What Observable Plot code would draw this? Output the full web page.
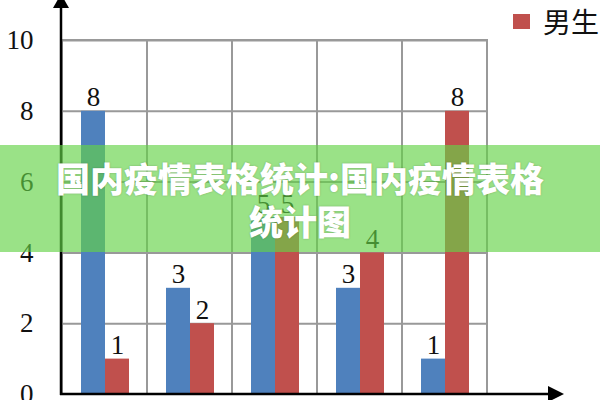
<!DOCTYPE html>
<html><head><meta charset="utf-8">
<script src="https://cdn.jsdelivr.net/npm/d3@7"></script>
<script src="https://cdn.jsdelivr.net/npm/@observablehq/plot@0.6"></script>
<style>
body{margin:0;background:#fff;}
#wrap{position:relative;width:600px;height:400px;overflow:hidden;}
#legend{position:absolute;left:513px;top:3px;display:flex;align-items:center;font-family:"Noto Sans CJK SC";font-size:28px;color:#111;white-space:nowrap;line-height:36px;}
#legend .sw{width:17px;height:15px;background:#c0504d;margin-right:13px;}
#banner{position:absolute;left:0;top:145px;width:600px;height:107px;background:rgba(100,210,70,0.65);display:flex;align-items:center;justify-content:center;}
#title{font-family:"Noto Sans CJK SC";font-weight:900;font-size:34px;color:#fff;text-align:center;line-height:43px;white-space:nowrap;text-shadow:0 0 2px rgba(0,0,0,.25);}
</style></head>
<body><div id="wrap"></div>
<script>
const categories = ["一", "二", "三", "四", "五"];
const girls = [8, 3, 5, 3, 1];
const boys = [1, 2, 5, 4, 8];
const yTicks = [0, 2, 4, 6, 8, 10];
const legendLabel = "男生";
const titleLines = ["国内疫情表格统计:国内疫情表格", "统计图"];

const rows = categories.map((c, i) => ({cat: c, girl: girls[i], boy: boys[i]}));
const serif = "'Liberation Serif', 'Times New Roman', serif";

const plot = Plot.plot({
  width: 600, height: 400,
  marginLeft: 61, marginRight: 113, marginTop: 40, marginBottom: 6,
  x: {domain: categories, padding: 0, axis: null},
  y: {domain: [0, 10], ticks: yTicks, tickSize: 0, tickPadding: 28, label: null},
  style: {background: "transparent", fontSize: "27px", fontFamily: serif, color: "#111", overflow: "visible"},
  marks: [
    Plot.ruleY(yTicks.filter(t => t > 0), {stroke: "#999", strokeWidth: 2}),
    Plot.barY(categories, {x: d => d, y1: 0, y2: 10, fill: "none", stroke: "#999", strokeWidth: 2}),
    Plot.barY(rows, {x: "cat", y: "girl", fill: "#4f81bd", insetLeft: 19, insetRight: 42}),
    Plot.barY(rows, {x: "cat", y: "boy", fill: "#c0504d", insetLeft: 43, insetRight: 18}),
    Plot.text(rows, {x: "cat", y: "girl", text: "girl", dx: -11.6, dy: -5, lineAnchor: "bottom", fontFamily: serif, fontSize: 27, fill: "#111"}),
    Plot.text(rows, {x: "cat", y: "boy", text: "boy", dx: 12.4, dy: -5, lineAnchor: "bottom", fontFamily: serif, fontSize: 27, fill: "#111"})
  ]
});

// axis lines with arrowheads, placed from the plot's scales
const xs = plot.scale("x"), ys = plot.scale("y");
const ax0 = xs.range[0], ay0 = ys.apply(0);
const g = d3.select(plot).append("g").attr("fill", "#000").attr("stroke", "#000");
g.append("line").attr("x1", ax0).attr("y1", ay0 + 1).attr("x2", ax0).attr("y2", 2).attr("stroke-width", 2.5);
g.append("line").attr("x1", ax0 - 1).attr("y1", ay0).attr("x2", 552).attr("y2", ay0).attr("stroke-width", 2.5);
g.append("polygon").attr("stroke", "none").attr("points", `${ax0},-6 ${ax0 - 8},8 ${ax0 + 8},8`);
g.append("polygon").attr("stroke", "none").attr("points", `564,${ay0} 548,${ay0 - 8} 548,${ay0 + 8}`);

const wrap = document.getElementById("wrap");
wrap.appendChild(plot);

const legend = document.createElement("div");
legend.id = "legend";
legend.innerHTML = `<div class="sw"></div><span></span>`;
legend.querySelector("span").textContent = legendLabel;
wrap.appendChild(legend);

const banner = document.createElement("div");
banner.id = "banner";
const title = document.createElement("div");
title.id = "title";
titleLines.forEach((t, i) => {
  if (i) title.appendChild(document.createElement("br"));
  title.appendChild(document.createTextNode(t));
});
banner.appendChild(title);
wrap.appendChild(banner);
</script>
</body></html>
